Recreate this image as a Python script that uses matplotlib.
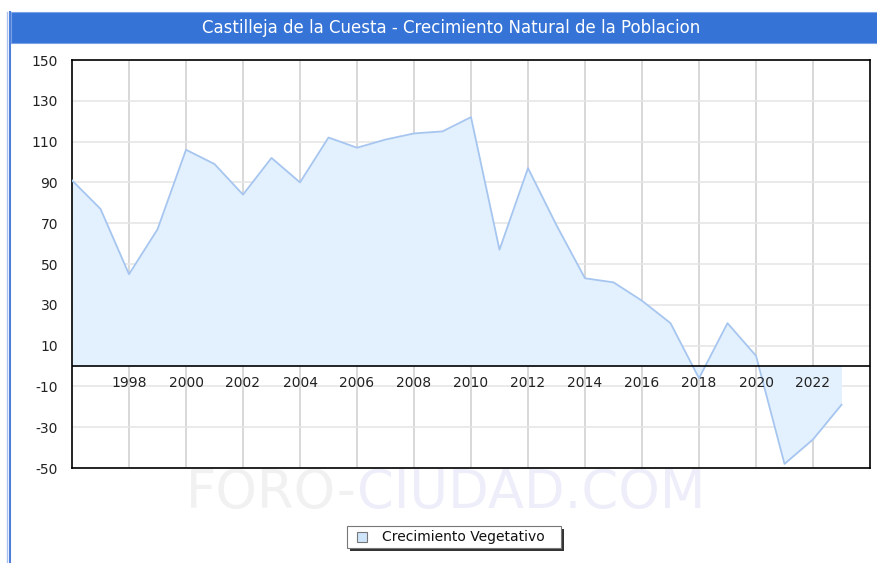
import matplotlib
matplotlib.use("Agg")
import matplotlib.pyplot as plt
from matplotlib.patches import Rectangle
from matplotlib.lines import Line2D

# data
years = list(range(1996, 2024))
crecimiento = [91, 77, 45, 67, 106, 99, 84, 102, 90, 112, 107, 111, 114, 115,
               122, 57, 97, 69, 43, 41, 32, 21, -6, 21, 5, -48, -36, -19]
year_ticks = list(range(1998, 2024, 2))
value_ticks = list(range(-50, 151, 20))

title = "Castilleja de la Cuesta - Crecimiento Natural de la Poblacion"
serie_label = "Crecimiento Vegetativo"

W, H = 878, 563
fig = plt.figure(figsize=(W / 100, H / 100), dpi=100)
fig.patch.set_facecolor("white")


def px(x, y):
    # pixel coords (top-left origin) -> figure fraction
    return x / W, 1 - y / H


def box(x, y, w, h, **kw):
    # rectangle given in pixels, top-left corner
    fx, fy = px(x, y + h)
    r = Rectangle((fx, fy), w / W, h / H, transform=fig.transFigure, **kw)
    fig.add_artist(r)
    return r


# page frame: two blue lines on the left and the title bar
fig.add_artist(Line2D([7 / W, 7 / W], [0, px(0, 12)[1]], color="#a9c1ee", lw=1.0))
fig.add_artist(Line2D([10.5 / W, 10.5 / W], [0, px(0, 12)[1]], color="#4e7fd9", lw=1.5))
box(11, 12, W - 11, 31, facecolor="#3573d6", edgecolor="#7aa2e6", lw=0.8)
tx, ty = px(451, 28)
fig.text(tx, ty, title, color="white", fontsize=12, ha="center", va="center")

# watermark, two tones
wx, wy = px(357, 493)
fig.text(wx, wy, "FORO-", color="#f1f1f1", fontsize=38, ha="right", va="center", zorder=0)
fig.text(wx, wy, "CIUDAD.COM", color="#eeeefb", fontsize=38, ha="left", va="center", zorder=0)

# plot area
l, b = px(72, 468)
ax = fig.add_axes([l, b, (870 - 72) / W, (468 - 60) / H])
ax.set_facecolor("none")
ax.set_zorder(2)
ax.set_xlim(1996, 2024)
ax.set_ylim(-50, 150)

ax.fill_between(years, crecimiento, 0, color="#e3f0fd", lw=0, zorder=2)
ax.plot(years, crecimiento, color="#a6c6f0", lw=1.3, zorder=3)

ax.set_yticks(value_ticks)
ax.set_yticklabels([str(v) for v in value_ticks], fontsize=10, color="#222222")
ax.tick_params(axis="y", length=0, pad=10)
ax.set_xticks(year_ticks)
ax.tick_params(axis="x", length=0, labelbottom=False)
ax.xaxis.grid(True, color="#d2d2d2", lw=1.2, zorder=1)
ax.yaxis.grid(True, color="#e6e6e6", lw=1.2, zorder=1)
ax.set_axisbelow(True)
for s in ax.spines.values():
    s.set_color("black")
    s.set_linewidth(1.2)

# zero line with the year labels hanging from it
ax.axhline(0, color="black", lw=1.2, zorder=4)
for yr in year_ticks:
    ax.text(yr, -5, str(yr), fontsize=10, color="#222222", ha="center", va="top", zorder=5)

# legend drawn by hand: shadow, frame, swatch, label
box(350, 529, 214, 22, facecolor="#333333", edgecolor="none", zorder=5)
box(347, 526, 214, 22, facecolor="white", edgecolor="#777777", lw=0.8, zorder=6)
box(357, 532, 10, 10, facecolor="#cfe5fb", edgecolor="#777777", lw=0.8, zorder=7)
lx, ly = px(382, 537)
fig.text(lx, ly, serie_label, fontsize=10, color="#111111", ha="left", va="center", zorder=8)

fig.savefig("out.png", dpi=100)
